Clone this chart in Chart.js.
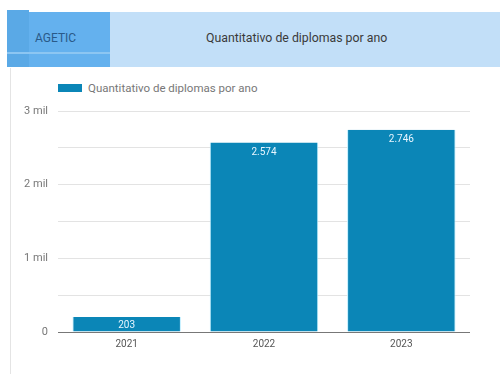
<!DOCTYPE html>
<html>
<head>
<meta charset="utf-8">
<script src="https://cdn.jsdelivr.net/npm/chart.js@4"></script>
<style>
  body { margin: 0; width: 500px; height: 374px; background: #fff; font-family: Roboto, sans-serif; position: relative; overflow: hidden; }
  .faixa { position: absolute; left: 7px; top: 10px; width: 22px; height: 57px; background: #5aa9e6; }
  .aba { position: absolute; left: 29px; top: 12px; width: 81px; height: 55px; background: #64b1ee; }
  .aba span { position: absolute; left: 6px; top: 19px; font-size: 12px; color: #2a5a88; }
  .aba i { position: absolute; left: -22px; right: 0; top: 40px; height: 2px; background: #8cc6f2; }
  .topo { position: absolute; left: 110px; top: 12px; right: 0; height: 55px; background: #c2dff8; }
  .topo span { position: absolute; left: 96px; top: 19px; font-size: 12.3px; color: #3a3a3a; }
  .borda { position: absolute; left: 10px; top: 68px; width: 1px; bottom: 0; background: #e4e4e4; }
  .legenda { position: absolute; left: 58px; top: 81px; font-size: 11.5px; color: #777; white-space: nowrap; }
  .legenda b { display: inline-block; width: 24px; height: 8px; vertical-align: 0px; margin-right: 6px; }
  #grafico { position: absolute; left: 10px; top: 70px; }
</style>
</head>
<body>
<div class="faixa"></div>
<div class="aba"><i></i><span>AGETIC</span></div>
<div class="topo"><span>Quantitativo de diplomas por ano</span></div>
<div class="borda"></div>
<div class="legenda" id="legenda"></div>
<canvas id="grafico" width="490" height="304"></canvas>
<script>
const anos = ['2021', '2022', '2023'];
const diplomas = [203, 2574, 2746];
const nomeSerie = 'Quantitativo de diplomas por ano';
const corBarra = '#0b86b7';

document.getElementById('legenda').innerHTML = `<b style="background:${corBarra}"></b>${nomeSerie}`;

// rótulos dentro das barras
const rotulos = {
  id: 'rotulos',
  afterDatasetsDraw(chart) {
    const ctx = chart.ctx;
    const meta = chart.getDatasetMeta(0);
    ctx.save();
    ctx.fillStyle = '#e8f6ff';
    ctx.font = '10px Roboto';
    ctx.textAlign = 'center';
    ctx.textBaseline = 'top';
    meta.data.forEach((barra, i) => {
      const txt = diplomas[i].toLocaleString('pt-BR');
      const alto = barra.base - barra.y;
      const y = alto < 20 ? barra.y + (alto - 10) / 2 + 1 : barra.y + 5;
      ctx.fillText(txt, barra.x, y);
    });
    ctx.restore();
  }
};

new Chart(document.getElementById('grafico'), {
  type: 'bar',
  data: {
    labels: anos,
    datasets: [{
      label: nomeSerie,
      data: diplomas,
      backgroundColor: corBarra,
      borderColor: '#bfefff',
      borderWidth: { left: 1, right: 1, top: 0, bottom: 0 },
      categoryPercentage: 0.79,
      barPercentage: 1
    }]
  },
  options: {
    responsive: false,
    animation: false,
    layout: { padding: { top: 41, right: 30, bottom: 18, left: 0 } },
    plugins: { legend: { display: false }, tooltip: { enabled: false } },
    scales: {
      x: {
        grid: { display: false },
        border: { display: false },
        ticks: { color: '#555', font: { family: 'Roboto', size: 10 }, padding: -2 },
        afterFit(s) { s.height = 24; }
      },
      y: {
        min: 0,
        max: 3000,
        border: { display: false },
        grid: {
          color: c => c.tick.value === 0 ? '#777' : '#e3e3e3',
          drawTicks: false
        },
        ticks: {
          stepSize: 500,
          color: '#777',
          font: { family: 'Roboto', size: 11 },
          padding: 10,
          callback: v => v === 0 ? '0' : (v % 1000 === 0 ? (v / 1000) + ' mil' : '')
        },
        afterFit(s) { s.width = 48; }
      }
    }
  },
  plugins: [rotulos]
});
</script>
</body>
</html>
